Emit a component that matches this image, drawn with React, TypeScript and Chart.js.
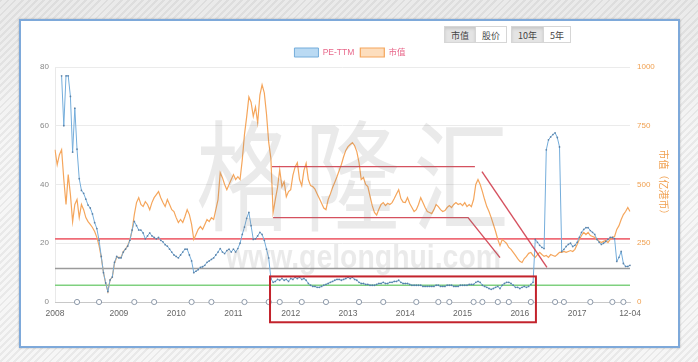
import React, { useEffect, useRef } from 'react';
import { Chart, registerables } from 'chart.js';

Chart.register(...registerables);

const FONT = '"Liberation Sans", "DejaVu Sans", "Noto Sans CJK SC", sans-serif';
const CJK = '"Noto Sans CJK SC", "Liberation Sans", sans-serif';

// ---- data (biweekly samples, grouped by year) ----
const years = ['2008', '2009', '2010', '2011', '2012', '2013', '2014', '2015', '2016', '2017'];
const lastLabel = '12-04';

const pe2008 = [null, null, null, 77, 60, 77, 77, 70, 51, 66, 52, 42, 38, 37, 35, 33, 32, 30, 27, 25, 21, 15.5, 10, 6.5, 3.5, 7.5, 8.5, 13.5, 15.5];
const pe2009 = [15, 15, 17, 18, 19, 21, 24.5, 27.4, 26, 24.5, 24.5, 23.5, 21.5, 22.5, 23.5, 22.5, 22, 21.5, 22, 21, 20.5, 19.5, 19, 18, 17, 16];
const pe2010 = [15.5, 15, 16, 17, 18, 18, 16, 14, 10, 10.5, 11, 11.8, 12, 12.5, 13.5, 14, 14.5, 15, 16, 17, 18.2, 17, 16.5, 17.5, 18, 17];
const pe2011 = [18, 17, 18.2, 20, 23, 25.5, 28.5, 30.5, 26, 21.3, 21.5, 22.5, 23.7, 23, 21, 18, 15, 8, 6.7, 7, 7.7, 7.4, 8, 7.4, 7.7, 7];
const pe2012 = [8, 7.7, 8.4, 8, 8.4, 7.7, 8, 7.4, 6.3, 5.7, 5.3, 5.3, 5, 5, 5.3, 5.7, 6, 6.3, 6.7, 7, 7.4, 7.7, 7.7, 7.4, 7.7, 8];
const pe2013 = [8.4, 8, 8.4, 7.7, 7.4, 6.7, 6.3, 6.3, 6, 6, 5.7, 5.7, 5.7, 6, 6.3, 6.3, 6.7, 6.3, 6.3, 6.7, 6.7, 7, 7, 7.4, 6.7, 6.3];
const pe2014 = [6.3, 6.3, 6, 5.7, 5.7, 5.7, 5.7, 5.7, 5.3, 5.3, 5.3, 5.3, 5.3, 5.3, 5.7, 5.7, 5.3, 5.3, 5.3, 5.7, 5.7, 5.7, 5.3, 5.3, 5.3, 5.7];
const pe2015 = [5.7, 5.7, 5.7, 6, 6, 6, 6.7, 7, 6.7, 5.7, 5.3, 5, 4.6, 4.3, 4.6, 5, 5.3, 4.6, 5.7, 6.3, 6.7, 6.7, 6.3, 5.7, 5, 5];
const pe2016 = [4.6, 5, 5.3, 5, 5.3, 6, 6.7, 21.3, 20.3, 19.3, 18.6, 18.2, 51.8, 55.2, 56.2, 57, 57.6, 56, 52.8, 17.2, 17.9, 18.9, 19.6, 20, 18.9, 19.3];
const pe2017 = [20.3, 22, 23.7, 24.7, 25.3, 25.3, 24.3, 23.7, 23, 21.3, 20.3, 19.6, 20, 20.6, 21.3, 22, 22, 21.6, 13.8, 15.2, 17.2, 13.1, 12.1, 12.1, 12.5];

const cap2008 = [648, 584, 627, 648, 521, 415, 542, 457, 342, 415, 436, 359, 415, 393, 359, 342, 330, 317, 300, 275, 240, 190, 125, 80, 45, 95, 105, 165, 190];
const cap2009 = [190, 190, 215, 225, 240, 265, 305, 372, 423, 444, 415, 406, 427, 415, 393, 423, 444, 457, 470, 444, 423, 406, 436, 415, 393, 385];
const cap2010 = [359, 338, 351, 338, 364, 393, 372, 330, 266, 287, 309, 321, 309, 330, 351, 342, 359, 351, 393, 436, 550, 529, 500, 478, 500, 521];
const cap2011 = [542, 521, 533, 521, 605, 712, 788, 873, 850, 790, 830, 763, 880, 924, 890, 800, 680, 610, 381, 436, 487, 563, 491, 512, 448, 470];
const cap2012 = [478, 540, 575, 593, 521, 495, 560, 590, 521, 495, 491, 480, 460, 440, 420, 400, 393, 436, 460, 487, 510, 533, 560, 585, 618, 645];
const cap2013 = [661, 670, 678, 665, 640, 593, 521, 530, 500, 491, 450, 410, 381, 370, 395, 415, 423, 410, 420, 415, 423, 440, 460, 478, 440, 425];
const cap2014 = [423, 444, 419, 402, 385, 393, 415, 444, 423, 402, 385, 381, 376, 393, 415, 406, 393, 385, 389, 402, 410, 402, 415, 423, 415, 419];
const cap2015 = [410, 423, 406, 415, 406, 436, 500, 521, 500, 470, 436, 406, 385, 359, 330, 300, 266, 240, 266, 258, 249, 232, 224, 211, 198, 185];
const cap2016 = [173, 168, 185, 194, 207, 211, 198, 190, 202, 211, 202, 194, 198, 190, 202, 198, 194, 202, 211, 211, 215, 211, 215, 219, 215, 224];
const cap2017 = [245, 266, 283, 296, 287, 296, 283, 279, 275, 266, 258, 253, 258, 262, 253, 266, 275, 279, 309, 325, 351, 372, 385, 402, 385];

// sample indices of the small circle markers on the zero line
const eventIdx = [10, 20, 36, 45, 62, 71, 86, 97, 102, 112, 123, 138, 149, 164, 174, 179, 190, 194, 201, 206, 216, 227, 231, 243, 253, 258];

// horizontal PE reference levels
const refLevels = [21.5, 11.4, 5.7];

// annotation channel on the market-cap axis: [sample index, market cap]
const channelUpper = [[98.5, 576], [190.6, 576]];
const channelUpperSlope = [[193.8, 555], [223.3, 147]];
const channelLower = [[99, 359], [187.5, 359], [202, 189]];
// highlighted box: sample index range and PE range
const boxIdx = [97.6, 218.3];
const boxPe = [8.7, -6.9];

const peByYear = [pe2008, pe2009, pe2010, pe2011, pe2012, pe2013, pe2014, pe2015, pe2016, pe2017];
const capByYear = [cap2008, cap2009, cap2010, cap2011, cap2012, cap2013, cap2014, cap2015, cap2016, cap2017];

const PE = peByYear.flat();
const CAP = capByYear.flat();
const xLabels: string[] = peByYear.flatMap((arr, k) => arr.map((_, j) => (j === 0 ? years[k] : '')));
xLabels[xLabels.length - 1] = lastLabel;
const EVENTS = PE.map((_, i) => (eventIdx.includes(i) ? 0 : null));

const overlay = {
  id: 'overlay',
  beforeDatasetsDraw(chart: any) {
    const { ctx, chartArea: a, scales } = chart;
    const colors = ['rgba(238,100,112,0.95)', 'rgba(150,150,150,0.95)', 'rgba(120,205,120,0.95)'];
    ctx.save();
    refLevels.forEach((v, k) => {
      const py = scales.y.getPixelForValue(v);
      ctx.strokeStyle = colors[k];
      ctx.lineWidth = 1.6;
      ctx.beginPath();
      ctx.moveTo(a.left, py);
      ctx.lineTo(a.right, py);
      ctx.stroke();
    });
    ctx.restore();
  },
  afterDatasetsDraw(chart: any) {
    const { ctx, scales } = chart;
    const X = (v: number) => scales.x.getPixelForValue(v);
    const Yc = (v: number) => scales.y1.getPixelForValue(v);
    const Yp = (v: number) => scales.y.getPixelForValue(v);
    ctx.save();
    ctx.strokeStyle = 'rgba(208,62,78,0.9)';
    ctx.lineWidth = 1.4;
    [channelUpper, channelUpperSlope, channelLower].forEach((pts) => {
      ctx.beginPath();
      pts.forEach((p, k) => {
        if (k === 0) ctx.moveTo(X(p[0]), Yc(p[1]));
        else ctx.lineTo(X(p[0]), Yc(p[1]));
      });
      ctx.stroke();
    });
    ctx.strokeStyle = '#c3232c';
    ctx.lineWidth = 2;
    const x0 = X(boxIdx[0]);
    const x1 = X(boxIdx[1]);
    const y0 = Yp(boxPe[0]);
    const y1 = Yp(boxPe[1]);
    ctx.strokeRect(x0, y0, x1 - x0, y1 - y0);
    ctx.restore();
  },
  afterDraw(chart: any) {
    const { ctx } = chart;
    ctx.save();
    ctx.fillStyle = 'rgba(125,125,125,0.16)';
    ctx.textBaseline = 'alphabetic';
    ctx.textAlign = 'left';
    ctx.font = `400 96px ${CJK}`;
    const chars = ['格', '隆', '汇'];
    const starts = [196, 304, 413];
    chars.forEach((c, k) => {
      ctx.save();
      ctx.translate(starts[k], 222);
      ctx.scale(1, 1.25);
      ctx.fillText(c, 0, 0);
      ctx.restore();
    });
    const url = 'www.gelonghui.com';
    ctx.font = `bold 34px ${FONT}`;
    const w = ctx.measureText(url).width;
    ctx.translate(226, 268);
    ctx.scale(275 / w, 1);
    ctx.fillText(url, 0, 0);
    ctx.restore();
  },
};

export default function App() {
  const ref = useRef<HTMLCanvasElement | null>(null);

  useEffect(() => {
    if (!ref.current) return;
    const chart = new Chart(ref.current, {
      type: 'line',
      data: {
        labels: xLabels,
        datasets: [
          {
            label: 'PE-TTM',
            data: PE,
            yAxisID: 'y',
            borderColor: '#74addb',
            backgroundColor: 'rgba(178,214,242,0.9)',
            borderWidth: 1,
            pointRadius: 0.9,
            pointBackgroundColor: 'rgba(70,110,150,0.75)',
            pointBorderWidth: 0,
            tension: 0,
            spanGaps: false,
          },
          {
            label: '市值',
            data: CAP,
            yAxisID: 'y1',
            borderColor: '#f5a65c',
            backgroundColor: 'rgba(253,222,190,1)',
            borderWidth: 1.2,
            pointRadius: 0,
            tension: 0,
          },
          {
            label: 'events',
            data: EVENTS,
            yAxisID: 'y',
            showLine: false,
            pointRadius: 2.6,
            pointBackgroundColor: '#ffffff',
            pointBorderColor: '#8e9aaa',
            pointBorderWidth: 1,
            borderColor: '#8e9aaa',
            backgroundColor: '#ffffff',
            clip: false,
          } as any,
        ],
      },
      options: {
        responsive: false,
        animation: false,
        events: [],
        layout: { padding: { left: 20, right: 18, top: 42, bottom: 32 } },
        plugins: {
          tooltip: { enabled: false },
          legend: {
            display: true,
            position: 'top',
            labels: {
              boxWidth: 24,
              boxHeight: 9,
              padding: 6,
              color: '#e8678a',
              font: { size: 8.5, family: FONT },
              filter: (item: any) => item.datasetIndex < 2,
            },
          },
        },
        scales: {
          x: {
            type: 'category',
            grid: {
              color: (c: any) => (xLabels[c.index] ? '#e9e9e9' : 'rgba(0,0,0,0)'),
              drawTicks: false,
            },
            border: { color: '#c8c8c8' },
            ticks: {
              autoSkip: false,
              maxRotation: 0,
              minRotation: 0,
              padding: 7,
              color: '#666',
              font: { size: 8.5, family: FONT },
              callback: (_v: any, i: number) => (xLabels[i] ? xLabels[i] : null),
            },
            afterFit: (s: any) => {
              s.height = 28;
            },
          },
          y: {
            position: 'left',
            min: 0,
            max: 80,
            ticks: { stepSize: 20, padding: 6, color: '#888', font: { size: 8, family: FONT } },
            grid: {
              color: (c: any) => (c.tick && c.tick.value === 0 ? '#c8c8c8' : '#ebebeb'),
              drawTicks: false,
            },
            border: { display: false },
            afterFit: (s: any) => {
              s.width = 35;
            },
          },
          y1: {
            position: 'right',
            min: 0,
            max: 1000,
            ticks: {
              stepSize: 250,
              padding: 7,
              color: '#f0a050',
              font: { size: 8, family: FONT },
              callback: (v: any) => String(v),
            },
            grid: { display: false, drawTicks: false },
            border: { display: false },
            title: {
              display: true,
              text: '市值（亿港币）',
              color: '#f0a050',
              font: { size: 10, family: CJK },
              padding: { top: 10, bottom: 0 },
            },
            afterFit: (s: any) => {
              s.width = 50;
            },
          },
        },
      } as any,
      plugins: [overlay],
    });
    return () => chart.destroy();
  }, []);

  const btnBase: React.CSSProperties = {
    height: 17,
    lineHeight: '17px',
    padding: '0 6px',
    fontSize: 9,
    fontFamily: CJK,
    color: '#444',
    border: '1px solid #d6d6d6',
    background: '#fff',
    boxSizing: 'border-box',
  };
  const pressed: React.CSSProperties = {
    ...btnBase,
    background: '#e4e4e4',
    boxShadow: 'inset 0 2px 3px rgba(0,0,0,0.12)',
  };

  return (
    <div
      style={{
        position: 'fixed',
        left: 0,
        top: 0,
        width: 698,
        height: 362,
        overflow: 'hidden',
        background:
          'linear-gradient(to bottom, rgba(0,0,0,0.05), rgba(0,0,0,0) 40%), repeating-linear-gradient(135deg, #e9e9e9 0px, #e9e9e9 2px, #f6f6f6 2px, #f6f6f6 5px)',
      }}
    >
      <div
        style={{
          position: 'absolute',
          left: 19,
          top: 19,
          width: 661,
          height: 329,
          boxSizing: 'border-box',
          border: '2px solid #7ea9da',
          background: '#ffffff',
          boxShadow: '0 0 2px rgba(0,0,0,0.25)',
        }}
      />
      <canvas ref={ref} width={698} height={362} style={{ position: 'absolute', left: 0, top: 0, width: 698, height: 362 }} />
      <div style={{ position: 'absolute', left: 444, top: 26, display: 'flex' }}>
        <div style={pressed}>市值</div>
        <div style={{ ...btnBase, borderLeft: 'none' }}>股价</div>
      </div>
      <div style={{ position: 'absolute', left: 511, top: 26, display: 'flex' }}>
        <div style={pressed}>10年</div>
        <div style={{ ...btnBase, borderLeft: 'none' }}>5年</div>
      </div>
    </div>
  );
}
